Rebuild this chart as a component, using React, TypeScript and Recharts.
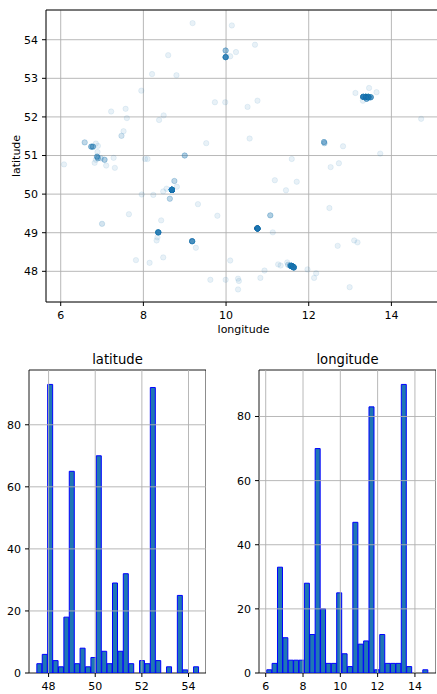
import React from 'react';
import {
  ScatterChart,
  Scatter,
  XAxis,
  YAxis,
  CartesianGrid,
  ReferenceArea,
  ReferenceLine,
  BarChart,
  Bar,
  Label,
} from 'recharts';

const FONT = "'DejaVu Sans', sans-serif";
const BLUE = '#1f77b4';
const GRID = '#b0b0b0';

// ---- scatter: longitude / latitude of records (count = stacked records at that spot)
const pointLon = [
  9.99, 9.99, 10.10, 10.24, 10.14, 9.19, 10.70, 8.60, 8.21, 8.80,
  7.95, 9.73, 9.98, 10.52, 10.76, 7.22, 7.57, 7.60, 8.49, 8.38,
  7.52, 7.47, 9.52, 10.57, 6.58, 6.74, 6.78, 6.85, 6.90, 6.89,
  6.88, 6.90, 6.85, 6.82, 6.97, 7.06, 7.10, 7.28, 7.31, 6.08,
  8.04, 8.10, 9.00, 8.75, 8.81, 8.56, 8.48, 8.69, 8.64, 7.96,
  8.24, 9.32, 7.65, 7.00, 8.43, 9.79, 8.36, 8.34, 8.32, 9.18,
  9.27, 7.82, 8.15, 8.48, 10.10, 9.62, 9.99, 10.29, 10.31, 10.29,
  13.13, 13.46, 13.64, 13.32, 13.38, 13.44, 13.50, 13.40, 13.45, 13.31,
  14.72, 12.37, 12.38, 12.83, 13.73, 11.59, 11.18, 11.71, 11.45, 12.53,
  12.73, 12.50, 11.07, 11.13, 10.76, 12.70, 13.10, 13.18, 11.58, 11.62,
  11.64, 11.55, 11.50, 11.48, 11.26, 11.32, 10.93, 10.83, 11.97, 12.18,
  12.13, 12.99,
];
const pointLat = [
  53.55, 53.72, 53.57, 53.68, 54.37, 54.43, 53.87, 53.60, 53.11, 53.08,
  52.68, 52.38, 52.38, 52.26, 52.42, 52.14, 52.21, 51.97, 52.04, 51.92,
  51.63, 51.51, 51.32, 51.44, 51.34, 51.23, 51.23, 51.31, 51.25, 51.09,
  50.97, 50.93, 50.89, 50.81, 50.93, 50.89, 50.74, 50.94, 50.68, 50.77,
  50.91, 50.91, 51.00, 50.34, 50.19, 50.14, 50.07, 50.11, 49.88, 49.99,
  49.98, 49.74, 49.48, 49.23, 49.32, 49.44, 49.01, 48.88, 48.80, 48.78,
  48.61, 48.29, 48.22, 48.36, 48.28, 47.78, 47.78, 47.81, 47.75, 47.53,
  52.62, 52.75, 52.64, 52.52, 52.52, 52.52, 52.51, 52.47, 52.50, 52.42,
  51.95, 51.35, 51.32, 51.24, 51.05, 50.91, 50.36, 50.32, 50.10, 50.70,
  50.80, 49.64, 49.45, 49.01, 49.11, 48.66, 48.80, 48.75, 48.14, 48.12,
  48.10, 48.15, 48.17, 48.23, 48.18, 48.15, 48.02, 47.83, 48.05, 47.95,
  47.83, 47.59,
];
const pointCount = [
  16, 5, 1, 1, 1, 1, 1, 1, 1, 1,
  1, 1, 1, 1, 1, 1, 1, 1, 1, 1,
  1, 2, 1, 1, 3, 6, 6, 1, 1, 1,
  6, 4, 1, 1, 2, 4, 1, 1, 1, 1,
  1, 1, 4, 3, 1, 1, 1, 60, 3, 1,
  1, 1, 1, 2, 1, 1, 20, 1, 1, 14,
  1, 1, 1, 1, 1, 1, 1, 1, 1, 1,
  1, 1, 1, 20, 25, 20, 10, 8, 5, 1,
  1, 5, 3, 1, 1, 1, 1, 1, 1, 1,
  1, 1, 4, 1, 40, 1, 1, 1, 30, 30,
  15, 5, 2, 1, 1, 1, 1, 1, 1, 1,
  1, 1,
];

const scatterXTicks = [6, 8, 10, 12, 14];
const scatterYTicks = [48, 49, 50, 51, 52, 53, 54];

// ---- histograms (30 bins each)
const latBinStart = 47.497;
const latBinWidth = 0.2317;
const latCounts = [
  3, 6, 93, 4, 2, 18, 65, 3, 8, 2,
  5, 70, 7, 3, 29, 7, 32, 3, 0, 4,
  3, 92, 4, 0, 2, 0, 25, 1, 0, 2,
];
const lonBinStart = 6.054;
const lonBinWidth = 0.2886;
const lonCounts = [
  1, 3, 33, 11, 4, 4, 4, 28, 12, 70,
  20, 3, 3, 25, 6, 2, 47, 9, 10, 83,
  1, 12, 3, 3, 3, 90, 2, 0, 0, 1,
];
const latHistTicks = [48, 50, 52, 54];
const lonHistTicks = [6, 8, 10, 12, 14];
const histYTicks = [0, 20, 40, 60, 80];

const scatterData = pointLon.flatMap((lon, i) =>
  Array.from({ length: pointCount[i] }, () => ({ lon, lat: pointLat[i] }))
);
const latData = latCounts.map((c, i) => ({ x: latBinStart + (i + 0.5) * latBinWidth, count: c }));
const lonData = lonCounts.map((c, i) => ({ x: lonBinStart + (i + 0.5) * lonBinWidth, count: c }));

const tickStyle = { fontSize: 11, fill: '#000', fontFamily: FONT };

const Dot = (p: any) => (
  <circle
    cx={p.cx}
    cy={p.cy}
    r={2.7}
    fill={BLUE}
    fillOpacity={0.1}
    stroke={BLUE}
    strokeOpacity={0.1}
    strokeWidth={0.9}
  />
);

const YLab = (props: any) => {
  const vb = props.viewBox || { y: 10, height: 292 };
  const cx = 20;
  const cy = vb.y + vb.height / 2;
  return (
    <text
      x={cx}
      y={cy}
      transform={`rotate(-90 ${cx} ${cy})`}
      textAnchor="middle"
      fontSize={11}
      fill="#000"
      fontFamily={FONT}
    >
      latitude
    </text>
  );
};

const SX: [number, number] = [5.644, 15.2];
const SY: [number, number] = [47.205, 54.77];

function Hist(props: {
  data: { x: number; count: number }[];
  xDomain: [number, number];
  yDomain: [number, number];
  xTicks: number[];
  width: number;
}) {
  const { data, xDomain, yDomain, xTicks, width } = props;
  return (
    <BarChart
      width={width}
      height={349}
      data={data}
      margin={{ top: 25, right: 0, bottom: 0, left: 0 }}
      barCategoryGap={0}
      barGap={0}
    >
      <XAxis
        type="number"
        dataKey="x"
        domain={xDomain}
        ticks={xTicks}
        allowDataOverflow
        height={21}
        axisLine={false}
        tickLine={{ stroke: '#000' }}
        tickSize={4}
        tickMargin={5}
        tick={tickStyle}
        interval={0}
      />
      <YAxis
        type="number"
        domain={yDomain}
        ticks={histYTicks}
        allowDataOverflow
        width={29}
        axisLine={false}
        tickLine={{ stroke: '#000' }}
        tickSize={4}
        tickMargin={4}
        tick={tickStyle}
        interval={0}
      />
      <Bar
        dataKey="count"
        fill={BLUE}
        stroke="#0000ff"
        strokeWidth={1}
        isAnimationActive={false}
      />
      {xTicks.map((t) => (
        <ReferenceLine key={'gx' + t} x={t} stroke={GRID} strokeWidth={0.9} />
      ))}
      {histYTicks
        .filter((t) => t > yDomain[0])
        .map((t) => (
          <ReferenceLine key={'gy' + t} y={t} stroke={GRID} strokeWidth={0.9} />
        ))}
      <ReferenceArea
        x1={xDomain[0]}
        x2={xDomain[1]}
        y1={yDomain[0]}
        y2={yDomain[1]}
        fill="none"
        fillOpacity={0}
        stroke="#000"
        strokeWidth={0.9}
        ifOverflow="visible"
      />
    </BarChart>
  );
}

const titleStyle: React.CSSProperties = {
  position: 'absolute',
  top: 353,
  width: 177,
  textAlign: 'center',
  fontFamily: FONT,
  fontSize: 13.2,
  lineHeight: '13px',
  color: '#000',
};

export default function App() {
  return (
    <div
      style={{
        position: 'absolute',
        left: 0,
        top: 0,
        width: 437,
        height: 694,
        overflow: 'hidden',
        background: '#fff',
        fontFamily: FONT,
      }}
    >
      <div style={{ position: 'absolute', left: 0, top: 0 }}>
        <ScatterChart width={441} height={345} margin={{ top: 10, right: 0, bottom: 0, left: 0 }}>
          <CartesianGrid stroke={GRID} strokeWidth={0.9} />
          <XAxis
            type="number"
            dataKey="lon"
            domain={SX}
            ticks={scatterXTicks}
            allowDataOverflow
            height={43}
            axisLine={false}
            tickLine={{ stroke: '#000' }}
            tickSize={4}
            tickMargin={5}
            tick={tickStyle}
            interval={0}
          >
            <Label
              value="longitude"
              position="insideBottom"
              offset={12}
              style={{ fontSize: 11, fill: '#000', fontFamily: FONT }}
            />
          </XAxis>
          <YAxis
            type="number"
            dataKey="lat"
            domain={SY}
            ticks={scatterYTicks}
            allowDataOverflow
            width={46}
            axisLine={false}
            tickLine={{ stroke: '#000' }}
            tickSize={4}
            tickMargin={4}
            tick={tickStyle}
            interval={0}
          >
            <Label content={YLab} />
          </YAxis>
          <Scatter data={scatterData} shape={Dot} isAnimationActive={false} />
          <ReferenceArea
            x1={SX[0]}
            x2={SX[1]}
            y1={SY[0]}
            y2={SY[1]}
            fill="none"
            fillOpacity={0}
            stroke="#000"
            strokeWidth={0.9}
            ifOverflow="visible"
          />
        </ScatterChart>
      </div>

      <div style={{ ...titleStyle, left: 29 }}>latitude</div>
      <div style={{ position: 'absolute', left: 0, top: 345 }}>
        <Hist data={latData} xDomain={[47.16, 54.75]} yDomain={[0, 97.65]} xTicks={latHistTicks} width={206} />
      </div>

      <div style={{ ...titleStyle, left: 259 }}>longitude</div>
      <div style={{ position: 'absolute', left: 230, top: 345 }}>
        <Hist data={lonData} xDomain={[5.64, 15.13]} yDomain={[0, 94.5]} xTicks={lonHistTicks} width={206} />
      </div>
    </div>
  );
}
